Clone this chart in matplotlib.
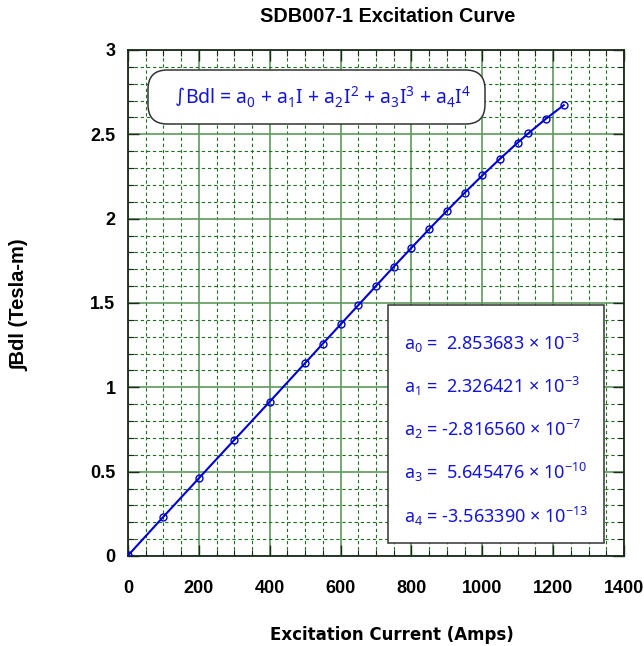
import numpy as np
import matplotlib
matplotlib.use('Agg')
import matplotlib.pyplot as plt
from matplotlib.patches import FancyBboxPatch, Rectangle
from matplotlib.ticker import MultipleLocator, FuncFormatter

# data
current = [0, 100, 200, 300, 400, 500, 550, 600, 650, 700, 750,
           800, 850, 900, 950, 1000, 1050, 1100, 1130, 1180, 1230]
bdl = [0.003, 0.233, 0.461, 0.688, 0.915, 1.144, 1.259, 1.373, 1.487, 1.601, 1.715,
       1.827, 1.938, 2.046, 2.153, 2.256, 2.355, 2.451, 2.506, 2.593, 2.673]

coef_names = ['a$_0$', 'a$_1$', 'a$_2$', 'a$_3$', 'a$_4$']
coef_vals = [' 2.853683', ' 2.326421', '-2.816560', ' 5.645476', '-3.563390']
coef_exps = ['-3', '-3', '-7', '-10', '-13']

plt.rcParams['font.family'] = ['Liberation Sans', 'DejaVu Sans']
plt.rcParams['mathtext.fontset'] = 'custom'
plt.rcParams['mathtext.rm'] = 'Noto Sans'
plt.rcParams['mathtext.it'] = 'Noto Sans:italic'
plt.rcParams['mathtext.bf'] = 'Noto Sans:bold'

fig = plt.figure(figsize=(6.44, 6.46), dpi=100)
ax = fig.add_axes([128/644, 1-556/646, 496/644, 506/646])

blue = '#1414d8'
ax.plot(current, bdl, '-', color='#0000d0', lw=1.5, marker='o', ms=5,
        mfc='none', mec='#0000d0', mew=1, zorder=3)

ax.set_xlim(0, 1400)
ax.set_ylim(0, 3)
ax.xaxis.set_major_locator(MultipleLocator(200))
ax.xaxis.set_minor_locator(MultipleLocator(50))
ax.yaxis.set_major_locator(MultipleLocator(0.5))
ax.yaxis.set_minor_locator(MultipleLocator(0.1))
ax.yaxis.set_major_formatter(FuncFormatter(lambda v, p: f'{v:g}'))

ax.grid(which='major', color='#5c9a5c', ls='-', lw=1.2, zorder=1)
ax.grid(which='minor', color='#1f701f', ls=(0, (3, 2.5)), lw=0.8, zorder=1)
ax.set_axisbelow(True)
ax.tick_params(which='both', direction='in', top=True, right=True, color='#1a2a1a')
ax.tick_params(which='major', length=8, width=1.0, labelsize=13)
ax.tick_params(axis='x', which='major', pad=17)
ax.tick_params(axis='y', which='major', pad=9)
ax.tick_params(which='minor', length=4, width=0.8)
for lab in ax.get_xticklabels() + ax.get_yticklabels():
    lab.set_fontweight('bold')
for sp in ax.spines.values():
    sp.set_color('#1a2a1a')
    sp.set_linewidth(1.3)

fig.text(388/644, 1-17/646, 'SDB007-1 Excitation Curve', ha='center', va='center',
         fontsize=14.3, fontweight='bold')
fig.text(392/644, 1-635/646, 'Excitation Current (Amps)', ha='center', va='center',
         fontsize=12, fontweight='bold', family='DejaVu Sans')
fig.text(20/644, 1-305/646, '∫Bdl (Tesla-m)', ha='center', va='center', rotation=90,
         fontsize=14.5, fontweight='bold')

# formula box
fbox = FancyBboxPatch((148/644, 1-124/646), 337/644, 54/646,
                      boxstyle='round,pad=0,rounding_size=0.03',
                      transform=fig.transFigure, fc='white', ec='#333333', lw=1.1, zorder=5)
fig.patches.append(fbox)
t_int = fig.text(175/644, 1-96/646, '∫', ha='left', va='center', fontsize=14,
                 color=blue, family='DejaVu Sans', zorder=6)
fig.canvas.draw()
bb = t_int.get_window_extent()
fig.text(bb.x1/644, 1-97/646,
         'Bdl = a$_0$ + a$_1$I + a$_2$I$^2$ + a$_3$I$^3$ + a$_4$I$^4$',
         ha='left', va='center', fontsize=14, color=blue, family='Noto Sans', zorder=6)

# coefficient box
cbox = Rectangle((388/644, 1-543/646), 216/644, 238/646, transform=fig.transFigure,
                 fc='white', ec='#333333', lw=1.1, zorder=5)
fig.patches.append(cbox)
for i in range(len(coef_names)):
    y = 343 + 43.3*i
    s = coef_names[i] + ' = ' + coef_vals[i] + r' $\times$ 10$^{' + coef_exps[i] + '}$'
    fig.text(404/644, 1-y/646, s, ha='left', va='center', fontsize=13,
             color=blue, family='Noto Sans', zorder=6)

fig.savefig('out.png', dpi=100)
